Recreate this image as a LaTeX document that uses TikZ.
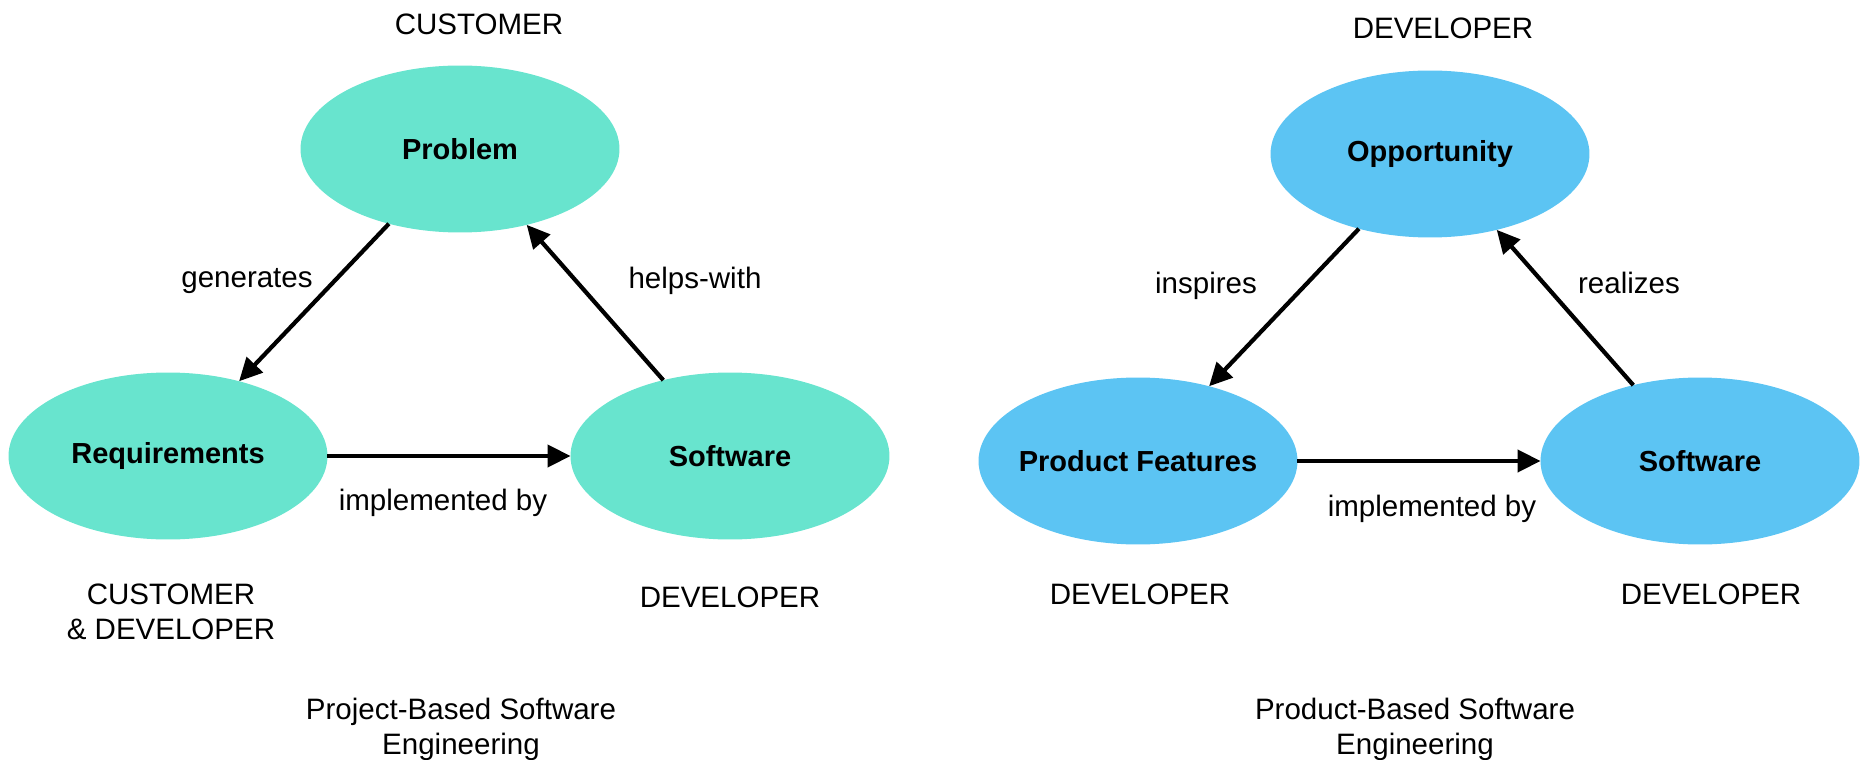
\documentclass[tikz,border=0pt]{standalone}
\usepackage{fontspec}
\setmainfont{Liberation Sans}
\usetikzlibrary{arrows.meta,positioning,shapes.geometric}
\definecolor{projTeal}{RGB}{104,228,206}
\definecolor{prodSky}{RGB}{92,196,243}
\tikzset{
  blob/.style={ellipse, inner sep=0pt, outer sep=0pt, minimum width=6.38cm, minimum height=3.34cm,
    font=\fontsize{16.5}{20}\selectfont\bfseries},
  tag/.style={font=\fontsize{16.8}{20}\selectfont, align=center, inner sep=0pt},
  link/.style={-{Triangle[length=4.6mm,width=4.4mm]}, line width=2.4pt},
}
% keep long names from stretching the ellipse
\newcommand{\blobtxt}[1]{\makebox[0pt]{#1}}

\begin{document}
\begin{tikzpicture}[x=0.02cm, y=-0.02cm]
    \useasboundingbox (0,0) rectangle (1863,760);
    % --- left: project-based cycle ---
    \begin{scope}
      \node[blob, fill=projTeal] (problem) at (460,149) {\blobtxt{Problem}};
      \node[blob, fill=projTeal] (reqs) at (168,456) {\blobtxt{Requirements}};
      \node[blob, fill=projTeal] (softA) at (730,456) {\blobtxt{Software}};
      \draw[link] (problem) -- (reqs);
      \draw[link] (reqs) -- (softA);
      \draw[link] (softA) -- (problem);
      \node[tag] (generates) at (247,281) {generates};
      \node[tag] (helps) at (695,281) {helps-with};
      \node[tag] (implA) at (443,503) {implemented by};
      \node[tag] (ownProblem) at (479,24) {CUSTOMER};
      \node[tag] (ownReqs) at (171,612) {CUSTOMER\\\& DEVELOPER};
      \node[tag] (ownSoftA) at (730,597) {DEVELOPER};
      \node[tag] (titleA) at (461,729) {Project-Based Software\\Engineering};
    \end{scope}
    % --- right: product-based cycle ---
    \begin{scope}[shift={(970,5)}]
      \node[blob, fill=prodSky] (chance) at (460,149) {\blobtxt{Opportunity}};
      \node[blob, fill=prodSky] (features) at (168,456) {\blobtxt{Product Features}};
      \node[blob, fill=prodSky] (softB) at (730,456) {\blobtxt{Software}};
      \draw[link] (chance) -- (features);
      \draw[link] (features) -- (softB);
      \draw[link] (softB) -- (chance);
      \node[tag] (inspires) at (236,281) {inspires};
      \node[tag] (realizes) at (659,278) {realizes};
      \node[tag] (implB) at (462,504) {implemented by};
      \node[tag] (ownChance) at (473,23) {DEVELOPER};
      \node[tag] (ownFeatures) at (170,589) {DEVELOPER};
      \node[tag] (ownSoftB) at (741,589) {DEVELOPER};
      \node[tag] (titleB) at (445,724) {Product-Based Software\\Engineering};
    \end{scope}
\end{tikzpicture}
\end{document}
